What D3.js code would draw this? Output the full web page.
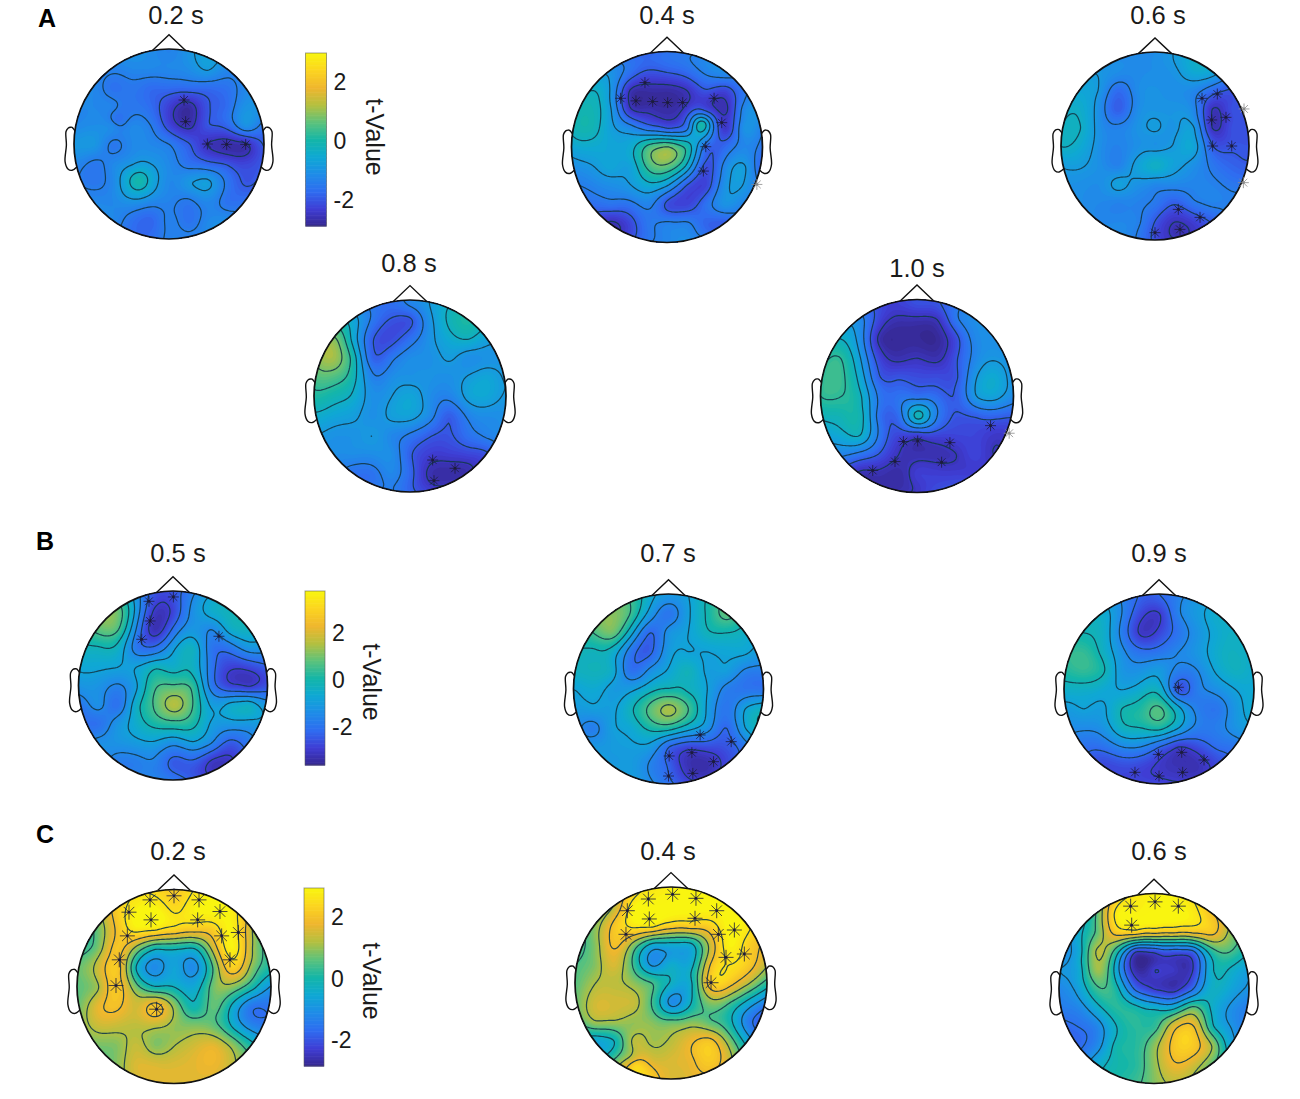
<!DOCTYPE html>
<html>
<head>
<meta charset="utf-8">
<script src="https://cdn.jsdelivr.net/npm/d3@7"></script>
<style>
  html, body { margin: 0; background: #fff; }
  svg { display: block; }
  text { font-family: "Liberation Sans", Arial, sans-serif; fill: #1a1a1a; }
</style>
</head>
<body>
<svg width="1300" height="1099"></svg>
<script>
const _ = null;

const gridA02 = [
  [_,_,_,_,_,-1.3,_,_,_,_,_],
  [_,_,-1.3,-1.2,-1.2,-1.2,-1.1,-0.8,-1.2,_,_],
  [_,-1.2,-1.6,-1.5,-1.7,-1.7,-1.7,-1.7,-1.6,-1.2,_],
  [_,-1.2,-1.3,-1.5,-1.7,-2.3,-2.7,-2.0,-1.7,-1.0,_],
  [-1.2,-1.1,-1.2,-1.2,-1.4,-2.2,-2.6,-2.0,-1.8,-1.0,-1.6],
  [-0.9,-0.9,-1.5,-1.2,-1.2,-1.4,-1.9,-2.5,-2.7,-2.6,-1.9],
  [-1.2,-1.5,-1.2,-0.9,-0.85,-1.2,-1.6,-1.8,-2.0,-2.2,-1.9],
  [_,-1.5,-1.2,-0.2,-0.5,-1.2,-0.9,-0.75,-1.5,-2.0,_],
  [_,-1.2,-1.2,-1.0,-1.2,-1.3,-1.5,-1.2,-1.6,-1.6,_],
  [_,_,-1.2,-1.6,-1.8,-1.3,-1.6,-1.2,-1.1,_,_],
  [_,_,_,_,_,-1.3,_,_,_,_,_]
];
const gridA04 = [
  [_,_,_,_,_,-1.6,_,_,_,_,_],
  [_,_,-1.0,-1.6,-2.0,-1.9,-1.7,-1.3,-1.1,_,_],
  [_,-0.3,-0.9,-2.5,-2.7,-2.7,-2.5,-2.0,-2.2,-1.5,_],
  [_,-0.1,-0.8,-2.4,-2.6,-2.7,-2.3,-2.1,-2.6,-1.2,_],
  [-0.2,-0.1,-0.7,-1.1,-1.6,-1.9,-1.5,-0.4,-2.4,-1.0,-1.4],
  [-0.6,-0.5,-0.6,-0.5,0.5,0.9,0.1,-1.7,-1.7,-1.2,-1.6],
  [-1.1,-0.9,-0.6,-0.7,0.4,0.6,-0.5,-2.1,-1.2,-0.8,-1.9],
  [_,-1.3,-1.1,-0.9,-0.5,-0.9,-2.0,-2.2,-1.0,-0.9,_],
  [_,-1.7,-1.6,-1.6,-1.3,-2.1,-2.2,-1.6,-1.0,-1.3,_],
  [_,_,-2.6,-2.2,-1.5,-1.3,-1.3,-1.8,-1.9,_,_],
  [_,_,_,_,_,-1.2,_,_,_,_,_]
];
const gridA06 = [
  [_,_,_,_,_,-1.1,_,_,_,_,_],
  [_,_,-0.9,-1.1,-1.15,-1.1,-0.95,-0.5,-0.6,_,_],
  [_,-0.6,-0.9,-1.7,-1.15,-1.0,-1.1,-1.2,-1.7,-2.0,_],
  [_,-0.4,-1.1,-1.9,-1.15,-0.95,-0.95,-1.2,-2.5,-2.1,_],
  [-0.3,-0.3,-1.05,-1.3,-1.0,-0.8,-0.95,-0.8,-2.5,-2.1,-2.1],
  [-0.3,-0.5,-1.05,-1.3,-1.05,-1.0,-0.8,-0.6,-1.9,-2.0,-2.0],
  [-0.8,-0.8,-1.05,-1.3,-0.7,-0.3,-0.7,-1.05,-1.5,-1.8,-1.9],
  [_,-1.05,-1.1,-0.7,-1.0,-1.2,-1.2,-1.25,-1.3,-1.5,_],
  [_,-1.1,-1.2,-1.3,-1.3,-1.5,-1.9,-1.5,-1.3,-1.3,_],
  [_,_,-1.2,-1.2,-1.3,-2.0,-2.5,-2.3,-1.9,_,_],
  [_,_,_,_,_,-2.1,_,_,_,_,_]
];
const gridA08 = [
  [_,_,_,_,_,-1.2,_,_,_,_,_],
  [_,_,-0.6,-1.5,-2.0,-2.0,-1.0,-0.2,0.1,_,_],
  [_,0.9,-0.5,-1.9,-2.1,-1.6,-1.0,-0.5,-0.3,-0.7,_],
  [_,1.1,0.0,-1.8,-1.5,-1.1,-1.05,-0.8,-1.1,-1.0,_],
  [0.5,0.5,-0.1,-1.3,-1.1,-1.0,-1.0,-1.05,-0.8,-0.6,-0.9],
  [0.1,-0.1,-0.4,-1.05,-0.85,-0.6,-1.1,-1.3,-0.7,-0.6,-0.9],
  [-0.4,-0.6,-0.75,-1.05,-0.75,-0.7,-1.2,-1.9,-1.3,-1.1,-1.0],
  [_,-1.0,-1.0,-0.85,-1.2,-1.5,-1.9,-2.0,-1.6,-1.3,_],
  [_,-1.1,-1.1,-1.1,-1.1,-1.9,-2.3,-2.3,-2.2,-2.0,_],
  [_,_,-1.6,-1.6,-1.2,-1.8,-2.6,-2.7,-2.6,_,_],
  [_,_,_,_,_,-1.8,_,_,_,_,_]
];
const gridA10 = [
  [_,_,_,_,_,-2.0,_,_,_,_,_],
  [_,_,-1.2,-2.2,-2.6,-2.6,-2.5,-1.5,-1.1,_,_],
  [_,-0.3,-1.1,-2.6,-2.8,-2.8,-2.8,-2.1,-1.2,-1.1,_],
  [_,0.25,-0.8,-2.2,-2.6,-2.5,-2.6,-2.0,-1.2,-0.9,_],
  [0.25,0.35,-0.5,-1.9,-2.0,-2.1,-2.1,-2.0,-0.9,-0.5,-1.1],
  [0.25,0.25,-0.2,-1.5,-1.6,-1.6,-1.7,-1.9,-0.9,-0.7,-1.2],
  [-0.2,-0.1,-0.1,-1.6,-1.7,-0.1,-1.4,-2.0,-1.9,-1.8,-1.9],
  [_,-0.5,-0.3,-1.5,-2.2,-2.3,-2.2,-2.2,-2.2,-2.4,_],
  [_,-1.3,-1.6,-2.0,-2.5,-2.6,-2.6,-2.5,-2.2,-2.5,_],
  [_,_,-2.6,-2.6,-2.7,-2.3,-2.3,-2.3,-2.3,_,_],
  [_,_,_,_,_,-2.4,_,_,_,_,_]
];
const gridB05 = [
  [_,_,_,_,_,-2.5,_,_,_,_,_],
  [_,_,1.0,-1.0,-3.0,-2.7,-1.3,-0.5,-0.2,_,_],
  [_,0.8,0.7,-1.5,-3.2,-2.0,-1.1,-1.5,-0.5,-0.3,_],
  [_,-0.2,-0.3,-1.8,-2.0,-0.9,-0.3,-1.9,-1.9,-1.2,_],
  [-0.7,-0.7,-0.8,-0.8,-0.2,-0.4,-0.3,-1.9,-2.8,-2.7,-2.3],
  [-1.2,-1.2,-1.6,-0.9,0.5,0.7,0.4,-1.8,-2.7,-2.9,-2.5],
  [-1.9,-1.3,-2.0,-0.4,0.7,1.6,0.6,-0.9,-0.6,-0.4,-1.2],
  [_,-2.0,-1.2,-0.5,0.1,0.3,0.1,-0.9,-1.1,-1.1,_],
  [_,-1.3,-1.2,-1.0,-0.9,-1.3,-0.9,-1.5,-2.4,-1.8,_],
  [_,_,-1.7,-1.7,-1.6,-2.4,-2.3,-3.0,-3.0,_,_],
  [_,_,_,_,_,-1.8,_,_,_,_,_]
];
const gridB07 = [
  [_,_,_,_,_,-1.1,_,_,_,_,_],
  [_,_,1.2,0.5,-1.1,-1.9,-0.9,0.0,0.8,_,_],
  [_,0.6,1.0,-0.6,-2.2,-1.2,-0.8,-0.2,-0.1,-0.4,_],
  [_,-0.2,-0.4,-1.9,-2.3,-1.0,-0.8,-0.8,-0.7,-0.7,_],
  [-0.3,-0.2,-0.5,-2.0,-1.3,-0.7,-0.2,-0.9,-0.9,-1.6,-1.7],
  [-0.8,-0.6,-1.0,-0.9,-0.3,0.0,-0.2,-0.8,-1.7,-1.9,-1.9],
  [-1.0,-0.9,-0.9,-0.2,0.8,1.5,0.6,-0.9,-1.9,-0.8,-0.3],
  [_,-1.7,-0.9,-0.6,0.1,0.2,-0.5,-1.2,-2.2,-0.8,_],
  [_,-1.1,-1.0,-0.9,-1.0,-2.2,-2.7,-2.6,-2.5,-1.8,_],
  [_,_,-1.0,-1.0,-1.6,-2.3,-3.2,-3.3,-2.7,_,_],
  [_,_,_,_,_,-2.0,_,_,_,_,_]
];
const gridB09 = [
  [_,_,_,_,_,-2.2,_,_,_,_,_],
  [_,_,-0.5,-1.5,-2.7,-2.9,-1.6,-1.0,-0.5,_,_],
  [_,-0.1,-0.4,-1.7,-3.0,-2.7,-1.9,-1.2,-0.6,-0.4,_],
  [_,0.4,-0.3,-1.3,-2.0,-1.9,-1.5,-1.1,-0.5,-0.3,_],
  [0.2,0.4,0.0,-1.1,-1.2,-1.0,-1.7,-1.5,-0.7,-0.3,-0.6],
  [-0.4,-0.4,-0.6,-0.8,-0.5,-0.4,-2.5,-1.7,-1.3,-0.8,-0.6],
  [-1.0,-0.8,-0.9,-0.1,0.2,0.7,-0.6,-1.7,-1.9,-1.1,-0.5],
  [_,-1.4,-1.2,-0.3,-0.1,0.1,-0.8,-1.7,-1.7,-1.2,_],
  [_,-2.0,-2.0,-1.5,-1.5,-2.2,-2.9,-2.6,-2.1,-1.9,_],
  [_,_,-2.7,-2.6,-2.7,-3.0,-3.2,-3.2,-2.7,_,_],
  [_,_,_,_,_,-2.7,_,_,_,_,_]
];
const gridC02 = [
  [_,_,_,_,_,2.2,_,_,_,_,_],
  [_,_,2.2,2.9,3.0,2.5,2.9,3.0,2.8,_,_],
  [_,0.7,2.0,2.8,2.7,2.4,2.2,2.3,2.9,1.2,_],
  [_,0.8,2.1,1.0,-0.1,-0.1,-0.2,1.5,2.9,1.2,_],
  [0.7,1.4,2.2,-0.2,-1.1,-0.6,-1.1,0.6,2.3,0.9,0.0],
  [0.6,1.1,2.2,0.8,-0.1,-0.2,-0.5,0.8,0.9,0.0,-1.0],
  [0.7,1.7,2.0,1.5,2.2,1.0,-0.1,0.7,-0.4,-1.5,-1.5],
  [_,1.4,1.4,1.3,1.3,1.0,0.9,0.7,-0.3,-1.2,_],
  [_,0.8,0.9,1.4,0.9,1.2,1.5,1.7,1.0,0.0,_],
  [_,_,0.9,1.6,1.6,1.6,1.7,1.8,1.3,_,_],
  [_,_,_,_,_,1.6,_,_,_,_,_]
];
const gridC04 = [
  [_,_,_,_,_,2.9,_,_,_,_,_],
  [_,_,1.3,2.9,3.0,3.0,3.0,3.0,2.9,_,_],
  [_,0.9,2.1,2.7,2.7,2.2,2.2,2.3,3.0,2.7,_],
  [_,0.9,2.0,0.9,-0.5,-0.5,-0.4,1.4,2.9,2.3,_],
  [0.5,0.9,1.6,0.4,-1.0,-0.4,-0.4,1.9,2.6,2.2,1.2],
  [0.6,1.2,1.3,1.0,0.5,-0.3,-0.3,2.2,2.1,1.2,0.1],
  [0.7,1.5,1.5,1.4,0.4,-1.1,-0.2,0.9,0.5,-0.5,-1.4],
  [_,1.1,1.1,1.0,0.9,0.7,0.9,0.6,0.0,-1.4,_],
  [_,-0.6,-0.2,1.3,1.1,1.3,1.8,2.1,0.9,-0.6,_],
  [_,_,0.6,1.7,1.6,1.6,1.8,2.2,1.4,_,_],
  [_,_,_,_,_,1.6,_,_,_,_,_]
];
const gridC06 = [
  [_,_,_,_,_,2.9,_,_,_,_,_],
  [_,_,0.7,2.8,2.9,3.0,3.0,2.8,2.0,_,_],
  [_,-0.4,0.7,2.2,2.3,2.1,2.0,2.0,2.1,1.0,_],
  [_,-0.5,1.3,0.1,-2.2,-2.1,-1.9,-1.7,0.2,0.5,_],
  [-0.9,-0.5,1.1,-0.6,-2.6,-2.3,-2.4,-2.3,-0.3,-0.3,-0.8],
  [-1.2,-0.7,0.4,0.0,-1.7,-2.3,-2.5,-1.6,-0.3,-0.6,-1.0],
  [-1.4,-1.2,-0.4,0.2,0.0,-0.3,-0.3,0.7,-0.3,-1.0,-1.4],
  [_,-1.6,-1.2,-0.2,0.2,0.3,1.7,2.0,0.0,-0.9,_],
  [_,-1.7,-1.1,0.0,0.2,1.0,2.1,2.2,1.2,-0.6,_],
  [_,_,-0.4,0.0,0.2,1.0,1.8,1.5,0.6,_,_],
  [_,_,_,_,_,0.9,_,_,_,_,_]
];

// small features that fall between raster points: [u, v, t]
const extraA02 = [[-0.32, 0.38, 0.05], [-0.56, -0.26, -1.6]];
const extraA04 = [[0.36, -0.24, 0.1]];
const extraC04 = [[-0.39, 0.82, 2.1]];

// significant sensors: [u, v]
const marksA02 = [[0.158,-0.463],[0.175,-0.235],[0.404,0],[0.607,0.004],[0.807,0.004]];
const marksA04 = [[-0.231,-0.675],[-0.486,-0.51],[-0.325,-0.483],[-0.15,-0.476],[0.007,-0.465],[0.164,-0.465],[0.493,-0.51],[0.573,-0.255],[0.406,-0.003],[0.381,0.252]];
const marksA06 = [[0.5,-0.507],[0.663,-0.553],[0.603,-0.277],[0.755,-0.305],[0.613,0],[0.816,0],[0.248,0.674],[0.479,0.759],[0,0.922],[0.266,0.887]];
const marksA08 = [[0.236,0.667],[0.469,0.753],[0.25,0.882]];
const marksA10 = [[-0.141,0.472],[0.007,0.466],[0.341,0.483],[-0.228,0.679],[0.255,0.686],[-0.459,0.772],[0.762,0.307]];
const marksB05 = [[-0.254,-0.891],[0.004,-0.937],[-0.243,-0.683],[-0.331,-0.489],[0.486,-0.521]];
const marksB07 = [[0.333,0.484],[0.66,0.554],[0.007,0.705],[0.246,0.67],[0.474,0.765],[0.256,0.888],[0,0.916]];
const marksB09 = [[0.204,-0.018],[-0.007,0.688],[0.239,0.667],[0.474,0.747],[-0.253,0.877],[0,0.916],[0.249,0.877]];
const marksC02 = [[0,-0.935],[-0.247,-0.893],[0.258,-0.893],[-0.464,-0.766],[0.474,-0.773],[-0.237,-0.687],[0.244,-0.687],[-0.481,-0.522],[0.491,-0.522],[0.663,-0.557],[-0.564,-0.275],[0.577,-0.275],[-0.598,-0.01],[-0.179,0.234]];
const marksC04 = [[-0.236,-0.875],[0.017,-0.924],[0.26,-0.882],[-0.455,-0.753],[0.476,-0.753],[-0.226,-0.667],[0.25,-0.674],[-0.469,-0.507],[0.493,-0.507],[0.66,-0.552],[0.573,-0.267],[0.764,-0.302],[0.417,-0.003]];
const marksC06 = [[-0.246,-0.867],[0.011,-0.912],[0.256,-0.867],[-0.235,-0.667]];

// grey sensors that sit on the rim
const greyA04 = [[0.941,0.392]];
const greyA06 = [[0.947,-0.394],[0.94,0.39]];
const greyA10 = [[0.955,0.386]];

const levelsA = [-2.5,-1.95,-1.4,-0.85,-0.3,0.25,0.8];
const levelsB = [-2.9,-2.2,-1.5,-0.8,-0.1,0.6,1.3];
const levelsC = [-2.3,-1.6,-0.9,-0.2,0.5,1.2,1.9,2.6];

const domainA = [-2.88, 2.98];
const domainB = [-3.6, 3.8];
const domainC = [-2.84, 2.96];
const barTicks = [-2, 0, 2];

// colour map as it looks in the colour bar
const parulaStops = ["#35278f","#3f3dd4","#2f6cf0","#1f8ce8","#0fa8d4","#14b6a8","#5cc27c","#b4c040","#efb62e","#fcd420","#f9f510"];

const panels = [
  { label: "0.2 s", cx: 169, cy: 144, r: 95, tx: 176, ty: 24, grid: gridA02, extra: extraA02, marks: marksA02, levels: levelsA, domain: domainA },
  { label: "0.4 s", cx: 667, cy: 147, r: 95.5, tx: 667, ty: 24, grid: gridA04, extra: extraA04, marks: marksA04, grey: greyA04, levels: levelsA, domain: domainA },
  { label: "0.6 s", cx: 1155, cy: 146, r: 94, tx: 1158, ty: 24, grid: gridA06, marks: marksA06, grey: greyA06, levels: levelsA, domain: domainA },
  { label: "0.8 s", cx: 410, cy: 396, r: 96, tx: 409, ty: 272, grid: gridA08, marks: marksA08, levels: levelsA, domain: domainA },
  { label: "1.0 s", cx: 917, cy: 396, r: 96.5, tx: 917, ty: 277, grid: gridA10, marks: marksA10, grey: greyA10, levels: levelsA, domain: domainA },
  { label: "0.5 s", cx: 173, cy: 685.5, r: 94.5, tx: 178, ty: 562, grid: gridB05, marks: marksB05, levels: levelsB, domain: domainB },
  { label: "0.7 s", cx: 668.5, cy: 689, r: 95, tx: 668, ty: 562, grid: gridB07, marks: marksB07, levels: levelsB, domain: domainB },
  { label: "0.9 s", cx: 1159, cy: 689, r: 95, tx: 1159, ty: 562, grid: gridB09, marks: marksB09, levels: levelsB, domain: domainB },
  { label: "0.2 s", cx: 174, cy: 986.5, r: 97, tx: 178, ty: 860, grid: gridC02, marks: marksC02, levels: levelsC, domain: domainC, bigMarks: true },
  { label: "0.4 s", cx: 671, cy: 983, r: 96, tx: 668, ty: 860, grid: gridC04, extra: extraC04, marks: marksC04, levels: levelsC, domain: domainC, bigMarks: true },
  { label: "0.6 s", cx: 1154, cy: 988.5, r: 95, tx: 1159, ty: 860, grid: gridC06, marks: marksC06, levels: levelsC, domain: domainC, bigMarks: true }
];

const colorBars = [
  { domain: domainA, x: 305.5, w: 21, y0: 226, y1: 53, labelX: 366, labelY: 137 },
  { domain: domainB, x: 305, w: 20, y0: 765, y1: 591, labelX: 363, labelY: 682 },
  { domain: domainC, x: 304, w: 20, y0: 1066, y1: 888, labelX: 363, labelY: 981 }
];

const panelLetters = [
  { text: "A", x: 38, y: 27 },
  { text: "B", x: 36, y: 550 },
  { text: "C", x: 36, y: 843 }
];

// head outline, in units of the head radius
const earX = [0.984,1.02,1.036,1.06,1.084,1.08,1.094,1.064,1.02,0.968];
const earY = [-0.131,-0.175,-0.177,-0.169,-0.131,0.011,0.186,0.263,0.277,0.24];
const noseX = [-0.18, 0, 0.18];
const noseY = [-0.98, -1.15, -0.98];

const parula = d3.scaleLinear()
  .domain(d3.range(parulaStops.length).map(i => i / (parulaStops.length - 1)))
  .range(parulaStops)
  .interpolate(d3.interpolateRgb);

const svg = d3.select("svg");

// biharmonic spline through the read values (same idea as griddata v4)
function biharmonic(points) {
  const n = points.length;
  const g = d => d < 1e-9 ? 0 : d * d * (Math.log(d) - 1);
  const mean = d3.mean(points, p => p[2]);
  const m = points.map((p, i) => {
    const row = points.map(q => g(Math.hypot(p[0] - q[0], p[1] - q[1])));
    row.push(p[2] - mean);
    return row;
  });
  for (let c = 0; c < n; c++) {
    let piv = c;
    for (let i = c + 1; i < n; i++) if (Math.abs(m[i][c]) > Math.abs(m[piv][c])) piv = i;
    [m[c], m[piv]] = [m[piv], m[c]];
    for (let i = c + 1; i < n; i++) {
      const f = m[i][c] / m[c][c];
      if (f === 0) continue;
      for (let j = c; j <= n; j++) m[i][j] -= f * m[c][j];
    }
  }
  const w = new Array(n);
  for (let i = n - 1; i >= 0; i--) {
    let s = m[i][n];
    for (let j = i + 1; j < n; j++) s -= m[i][j] * w[j];
    w[i] = s / m[i][i];
  }
  return (u, v) => {
    let s = mean;
    for (let i = 0; i < n; i++) s += w[i] * g(Math.hypot(u - points[i][0], v - points[i][1]));
    return s;
  };
}

const fieldSize = 120;
const fieldSpan = 1.04;

panels.forEach((p, idx) => {
  const x = d3.scaleLinear().domain([-1, 1]).range([p.cx - p.r, p.cx + p.r]);
  const y = d3.scaleLinear().domain([-1, 1]).range([p.cy - p.r, p.cy + p.r]);

  // raster points + extra points
  const pts = [];
  p.grid.forEach((row, j) => row.forEach((val, i) => {
    if (val !== null) pts.push([-1 + i * 0.2, -1 + j * 0.2, val]);
  }));
  (p.extra || []).forEach(e => pts.push(e));
  const f = biharmonic(pts);

  const values = new Array(fieldSize * fieldSize);
  const toUnit = d3.scaleLinear().domain([0, fieldSize - 1]).range([-fieldSpan, fieldSpan]);
  for (let j = 0; j < fieldSize; j++) {
    for (let i = 0; i < fieldSize; i++) {
      values[j * fieldSize + i] = f(toUnit(i), toUnit(j));
    }
  }

  const color = d3.scaleSequential(parula).domain(p.domain).clamp(true);
  const g = svg.append("g").attr("class", "head");

  g.append("clipPath").attr("id", "clip" + idx)
    .append("circle").attr("cx", p.cx).attr("cy", p.cy).attr("r", p.r);

  // ears and nose go under the map
  const line = d3.line().x(d => x(d[0])).y(d => y(d[1]));
  const earPts = earX.map((e, i) => [p.cx + e * p.r, p.cy + earY[i] * p.r]);
  const earLine = d3.line().curve(d3.curveCatmullRom);
  [1, -1].forEach(side => {
    g.append("path")
      .attr("d", earLine(earPts.map(q => [p.cx + side * (q[0] - p.cx), q[1]])))
      .attr("fill", "none").attr("stroke", "#111").attr("stroke-width", 1.4);
  });
  g.append("path")
    .attr("d", line(noseX.map((n, i) => [n, noseY[i]])))
    .attr("fill", "none").attr("stroke", "#111").attr("stroke-width", 1.4);

  const mapScale = 2 * fieldSpan * p.r / (fieldSize - 1);
  const mapTransform = `translate(${p.cx - fieldSpan * p.r},${p.cy - fieldSpan * p.r}) scale(${mapScale})`;
  const map = g.append("g").attr("clip-path", `url(#clip${idx})`);
  const inner = map.append("g").attr("transform", mapTransform);
  const path = d3.geoPath();

  // smooth shading
  const shades = d3.range(p.domain[0] - 3, p.domain[1] + 3, 0.09);
  const fills = d3.contours().size([fieldSize, fieldSize]).thresholds(shades)(values);
  inner.selectAll("path.shade")
    .data(fills.filter(c => c.coordinates.length))
    .enter().append("path")
    .attr("class", "shade")
    .attr("d", path)
    .attr("fill", d => color(d.value + 0.045));

  // contour lines
  const lines = d3.contours().size([fieldSize, fieldSize]).thresholds(p.levels)(values);
  inner.selectAll("path.level")
    .data(lines)
    .enter().append("path")
    .attr("class", "level")
    .attr("d", path)
    .attr("fill", "none")
    .attr("stroke", "#133a4a")
    .attr("stroke-opacity", 0.9)
    .attr("stroke-width", 1.2 / mapScale);

  // head circle
  g.append("circle")
    .attr("cx", p.cx).attr("cy", p.cy).attr("r", p.r)
    .attr("fill", "none").attr("stroke", "#111").attr("stroke-width", 1.7);

  // asterisks
  const armLen = p.bigMarks ? 7.5 : 5.5;
  const drawMark = (m, stroke, width) => {
    const mg = g.append("g").attr("transform", `translate(${x(m[0])},${y(m[1])})`);
    [0, 45, 90, 135].forEach(a => {
      const c = Math.cos(a * Math.PI / 180) * armLen, s = Math.sin(a * Math.PI / 180) * armLen;
      mg.append("line").attr("x1", -c).attr("y1", -s).attr("x2", c).attr("y2", s)
        .attr("stroke", stroke).attr("stroke-width", width);
    });
    mg.append("circle").attr("r", 1.4).attr("fill", stroke);
  };
  p.marks.forEach(m => drawMark(m, "#1c1c3c", 0.8));
  (p.grey || []).forEach(m => drawMark(m, "#8a8a8a", 0.8));

  // title
  svg.append("text")
    .attr("x", p.tx).attr("y", p.ty)
    .attr("text-anchor", "middle")
    .style("font-size", "25.5px")
    .text(p.label);
});

// colour bars
colorBars.forEach(b => {
  const scale = d3.scaleLinear().domain(b.domain).range([b.y0, b.y1]);
  const g = svg.append("g");
  const color = d3.scaleSequential(parula).domain(b.domain);
  const steps = d3.range(0, 128).map(i => b.domain[0] + (b.domain[1] - b.domain[0]) * i / 128);
  const dv = (b.domain[1] - b.domain[0]) / 128;
  g.selectAll("rect")
    .data(steps)
    .enter().append("rect")
    .attr("x", b.x)
    .attr("width", b.w)
    .attr("y", d => scale(d + dv))
    .attr("height", d => scale(d) - scale(d + dv) + 0.6)
    .attr("fill", d => color(d + dv / 2));
  g.append("rect")
    .attr("x", b.x).attr("y", b.y1).attr("width", b.w).attr("height", b.y0 - b.y1)
    .attr("fill", "none").attr("stroke", "#555").attr("stroke-opacity", 0.55);

  const axis = g.append("g")
    .attr("transform", `translate(${b.x + b.w},0)`)
    .call(d3.axisRight(scale).tickValues(barTicks).tickSize(0).tickPadding(7).tickFormat(d => String(d)));
  axis.select(".domain").remove();
  axis.selectAll("text").style("font-size", "23px").attr("fill", "#1a1a1a");

  svg.append("text")
    .attr("transform", `translate(${b.labelX},${b.labelY}) rotate(90)`)
    .attr("text-anchor", "middle")
    .style("font-size", "25px")
    .text("t-Value");
});

svg.selectAll("text.letter")
  .data(panelLetters)
  .enter().append("text")
  .attr("class", "letter")
  .attr("x", d => d.x).attr("y", d => d.y)
  .style("font-size", "25px")
  .style("font-weight", "bold")
  .style("fill", "#000")
  .text(d => d.text);
</script>
</body>
</html>
